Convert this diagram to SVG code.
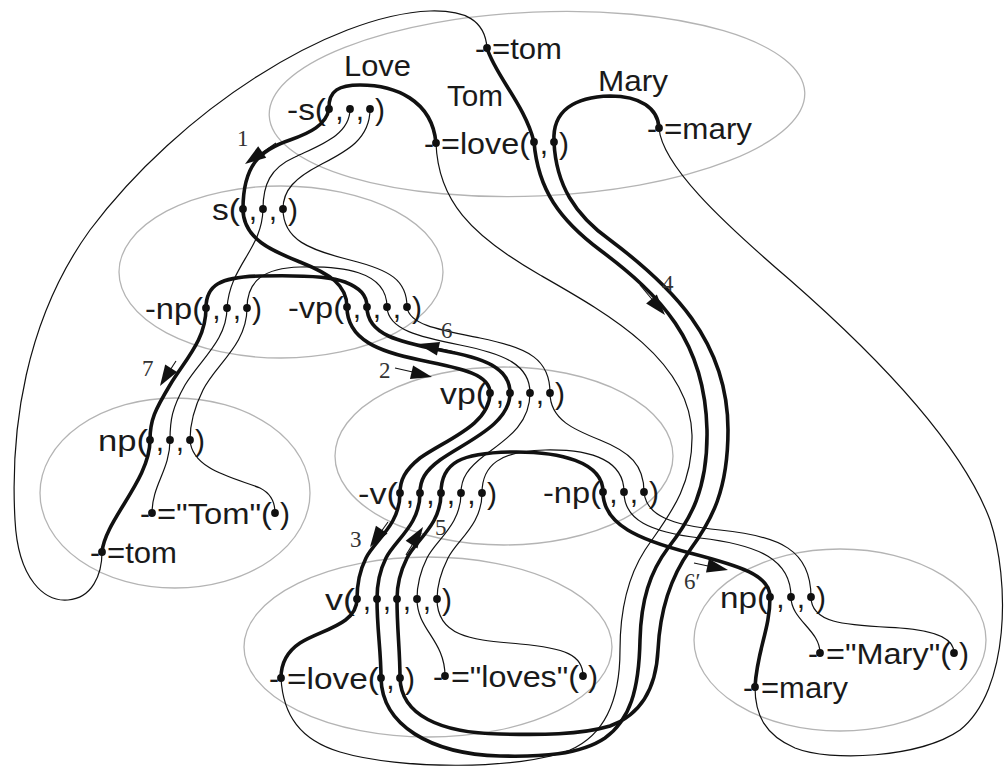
<svg xmlns="http://www.w3.org/2000/svg" width="1005" height="767" viewBox="0 0 1005 767">
<defs>
<style>
.e{fill:none;stroke:#b4b4b4;stroke-width:1.3}
.t{font-family:"Liberation Sans",Arial,sans-serif;font-size:30px;fill:#1a1a1a}
.r{text-anchor:end}
.m{text-anchor:middle}
.d{fill:#111}
.k{fill:none;stroke:#111;stroke-width:3.6;stroke-linecap:round}
.n{fill:none;stroke:#111;stroke-width:1.2}
.a{fill:none;stroke:#111;stroke-width:1.1}
.h{fill:#111;stroke:none}
.l{font-family:"Liberation Serif","Times New Roman",serif;font-size:23px;fill:#333}
</style>
<path id="ah" class="h" d="M-21,-7 L0,0 L-21,7 Z"/>
</defs>
<rect width="1005" height="767" fill="#fff"/>

<g id="n-love">
<ellipse class="e" cx="537" cy="104" rx="268" ry="92" transform="rotate(-2.5 537 104)"/>
<text class="t" x="344" y="76" textLength="67" lengthAdjust="spacingAndGlyphs">Love</text>
<text class="t" x="447" y="106" textLength="56" lengthAdjust="spacingAndGlyphs">Tom</text>
<text class="t" x="598" y="91" textLength="70" lengthAdjust="spacingAndGlyphs">Mary</text>
<text class="t r" x="485" y="59">-</text>
<text class="t" x="492" y="59" textLength="70" lengthAdjust="spacingAndGlyphs">=tom</text>
<circle class="d" cx="487" cy="48" r="3.9"/>
<text class="t" x="287" y="120" textLength="39" lengthAdjust="spacingAndGlyphs">-s(</text>
<text class="t m" x="339.5" y="120">,</text>
<text class="t m" x="360" y="120">,</text>
<text class="t" x="375" y="120">)</text>
<circle class="d" cx="329" cy="109" r="3.9"/>
<circle class="d" cx="350" cy="109" r="3.9"/>
<circle class="d" cx="370" cy="109" r="3.9"/>
<text class="t r" x="434" y="154">-</text>
<text class="t" x="441" y="154" textLength="89" lengthAdjust="spacingAndGlyphs">=love(</text>
<circle class="d" cx="436" cy="143" r="3.9"/>
<circle class="d" cx="534" cy="142" r="3.9"/>
<circle class="d" cx="554" cy="142" r="3.9"/>
<text class="t m" x="544" y="154">,</text>
<text class="t" x="559" y="154">)</text>
<text class="t r" x="657" y="139">-</text>
<circle class="d" cx="659" cy="128" r="3.9"/>
<text class="t" x="664" y="139" textLength="88" lengthAdjust="spacingAndGlyphs">=mary</text>
</g>

<g id="n-s">
<ellipse class="e" cx="281" cy="272" rx="162" ry="86"/>
<text class="t" x="212" y="220" textLength="28" lengthAdjust="spacingAndGlyphs">s(</text>
<circle class="d" cx="243" cy="209" r="3.9"/>
<circle class="d" cx="263" cy="209" r="3.9"/>
<circle class="d" cx="283" cy="209" r="3.9"/>
<text class="t m" x="253" y="220">,</text>
<text class="t m" x="273" y="220">,</text>
<text class="t" x="288" y="220">)</text>
<text class="t" x="145" y="319" textLength="58" lengthAdjust="spacingAndGlyphs">-np(</text>
<circle class="d" cx="206" cy="308" r="3.9"/>
<circle class="d" cx="227" cy="308" r="3.9"/>
<circle class="d" cx="247" cy="308" r="3.9"/>
<text class="t m" x="216.5" y="319">,</text>
<text class="t m" x="237" y="319">,</text>
<text class="t" x="252" y="319">)</text>
<text class="t" x="288" y="318" textLength="56" lengthAdjust="spacingAndGlyphs">-vp(</text>
<circle class="d" cx="347" cy="307" r="3.9"/>
<circle class="d" cx="367" cy="307" r="3.9"/>
<circle class="d" cx="387" cy="307" r="3.9"/>
<circle class="d" cx="407" cy="307" r="3.9"/>
<text class="t m" x="357" y="318">,</text>
<text class="t m" x="377" y="318">,</text>
<text class="t m" x="397" y="318">,</text>
<text class="t" x="412" y="318">)</text>
</g>

<g id="n-vp">
<ellipse class="e" cx="504" cy="456" rx="169" ry="89"/>
<text class="t" x="440" y="404" textLength="47" lengthAdjust="spacingAndGlyphs">vp(</text>
<circle class="d" cx="490" cy="393" r="3.9"/>
<circle class="d" cx="510" cy="393" r="3.9"/>
<circle class="d" cx="530" cy="393" r="3.9"/>
<circle class="d" cx="550" cy="393" r="3.9"/>
<text class="t m" x="500" y="404">,</text>
<text class="t m" x="520" y="404">,</text>
<text class="t m" x="540" y="404">,</text>
<text class="t" x="555" y="404">)</text>
<text class="t" x="358" y="504" textLength="40" lengthAdjust="spacingAndGlyphs">-v(</text>
<circle class="d" cx="400" cy="493" r="3.9"/>
<circle class="d" cx="420" cy="493" r="3.9"/>
<circle class="d" cx="441" cy="493" r="3.9"/>
<circle class="d" cx="461" cy="493" r="3.9"/>
<circle class="d" cx="482" cy="493" r="3.9"/>
<text class="t m" x="410" y="504">,</text>
<text class="t m" x="430.5" y="504">,</text>
<text class="t m" x="451" y="504">,</text>
<text class="t m" x="471.5" y="504">,</text>
<text class="t" x="487" y="504">)</text>
<text class="t" x="543" y="503" textLength="58" lengthAdjust="spacingAndGlyphs">-np(</text>
<circle class="d" cx="603" cy="492" r="3.9"/>
<circle class="d" cx="624" cy="492" r="3.9"/>
<circle class="d" cx="644" cy="492" r="3.9"/>
<text class="t m" x="613.5" y="503">,</text>
<text class="t m" x="634" y="503">,</text>
<text class="t" x="649" y="503">)</text>
</g>

<g id="n-np-tom">
<ellipse class="e" cx="175" cy="493" rx="135" ry="95"/>
<text class="t" x="98" y="451" textLength="50" lengthAdjust="spacingAndGlyphs">np(</text>
<circle class="d" cx="150" cy="440" r="3.9"/>
<circle class="d" cx="170" cy="440" r="3.9"/>
<circle class="d" cx="190" cy="440" r="3.9"/>
<text class="t m" x="160" y="451">,</text>
<text class="t m" x="180" y="451">,</text>
<text class="t" x="195" y="451">)</text>
<text class="t r" x="150" y="524">-</text>
<circle class="d" cx="152" cy="513" r="3.9"/>
<text class="t" x="157" y="524" textLength="115" lengthAdjust="spacingAndGlyphs">="Tom"(</text>
<circle class="d" cx="275" cy="513" r="3.9"/>
<text class="t" x="280" y="524">)</text>
<text class="t r" x="100" y="563">-</text>
<circle class="d" cx="102" cy="552" r="3.9"/>
<text class="t" x="107" y="563" textLength="70" lengthAdjust="spacingAndGlyphs">=tom</text>
</g>

<g id="n-v">
<ellipse class="e" cx="428" cy="647" rx="184" ry="90"/>
<text class="t" x="325" y="610" textLength="30" lengthAdjust="spacingAndGlyphs">v(</text>
<circle class="d" cx="357" cy="599" r="3.9"/>
<circle class="d" cx="377" cy="599" r="3.9"/>
<circle class="d" cx="397" cy="599" r="3.9"/>
<circle class="d" cx="417" cy="599" r="3.9"/>
<circle class="d" cx="437" cy="599" r="3.9"/>
<text class="t m" x="367" y="610">,</text>
<text class="t m" x="387" y="610">,</text>
<text class="t m" x="407" y="610">,</text>
<text class="t m" x="427" y="610">,</text>
<text class="t" x="442" y="610">)</text>
<text class="t r" x="279" y="689">-</text>
<circle class="d" cx="281" cy="678" r="3.9"/>
<text class="t" x="287" y="689" textLength="92" lengthAdjust="spacingAndGlyphs">=love(</text>
<circle class="d" cx="381" cy="678" r="3.9"/>
<circle class="d" cx="400" cy="678" r="3.9"/>
<text class="t m" x="390.5" y="689">,</text>
<text class="t" x="405" y="689">)</text>
<text class="t r" x="443" y="687">-</text>
<circle class="d" cx="445" cy="676" r="3.9"/>
<text class="t" x="451" y="687" textLength="128" lengthAdjust="spacingAndGlyphs">="loves"(</text>
<circle class="d" cx="583" cy="676" r="3.9"/>
<text class="t" x="588" y="687">)</text>
</g>

<g id="n-np-mary">
<ellipse class="e" cx="840" cy="640" rx="146" ry="91"/>
<text class="t" x="720" y="608" textLength="48" lengthAdjust="spacingAndGlyphs">np(</text>
<circle class="d" cx="770" cy="597" r="3.9"/>
<circle class="d" cx="791" cy="597" r="3.9"/>
<circle class="d" cx="811" cy="597" r="3.9"/>
<text class="t m" x="780.5" y="608">,</text>
<text class="t m" x="801" y="608">,</text>
<text class="t" x="816" y="608">)</text>
<text class="t r" x="818" y="664">-</text>
<circle class="d" cx="820" cy="653" r="3.9"/>
<text class="t" x="826" y="664" textLength="125" lengthAdjust="spacingAndGlyphs">="Mary"(</text>
<circle class="d" cx="954" cy="653" r="3.9"/>
<text class="t" x="959" y="664">)</text>
<text class="t r" x="753" y="698">-</text>
<circle class="d" cx="755" cy="687" r="3.9"/>
<text class="t" x="761" y="698" textLength="87" lengthAdjust="spacingAndGlyphs">=mary</text>
</g>

<g id="connectors">
<path class="k" d="M487,48 C495,75 525,105 534,142"/>
<path class="n" d="M487,48 C485,20 465,10 430,11 C330,15 180,110 90,230 C25,320 10,430 15,520 C18,580 45,602 68,600 C92,598 102,575 102,552"/>
<path class="k" d="M329,109 C328,90 340,85 360,85 C395,85 432,100 436,143"/>
<path class="k" d="M554,142 C552,110 575,97 610,96 C640,96 658,108 659,128"/>
<path class="n" d="M659,128 C662,165 720,220 790,280 C870,350 960,440 990,520 C1010,580 1010,690 960,730 C920,758 830,762 795,748 C765,735 755,715 755,687"/>
<path class="k" d="M329,109 C326,125 310,133 290,140 C260,150 243,165 243,209"/>
<path class="n" d="M350,109 C350,135 320,145 295,157 C270,168 263,185 263,209"/>
<path class="n" d="M370,109 C370,140 345,152 320,165 C295,178 283,190 283,209"/>
<path class="k" d="M243,209 C243,240 275,252 300,262 C330,274 347,285 347,307"/>
<path class="n" d="M263,209 C262,250 230,265 227,308"/>
<path class="n" d="M283,209 C283,240 310,250 350,260 C390,270 407,280 407,307"/>
<path class="k" d="M206,308 C206,285 220,277 260,276 C300,275 330,276 345,282 C360,288 367,295 367,307"/>
<path class="n" d="M247,308 C247,280 265,268 300,267 C340,266 387,270 387,307"/>
<path class="k" d="M206,308 C206,340 185,360 170,385 C155,410 150,420 150,440"/>
<path class="n" d="M227,308 C227,340 200,360 185,385 C172,408 170,420 170,440"/>
<path class="n" d="M247,308 C247,345 215,365 203,390 C193,410 190,425 190,440"/>
<path class="k" d="M150,440 C150,480 105,520 102,552"/>
<path class="n" d="M170,440 C170,470 152,485 152,513"/>
<path class="n" d="M190,440 C192,470 235,478 260,488 C272,494 275,503 275,513"/>
<path class="k" d="M347,307 C347,340 380,352 420,360 C465,369 490,375 490,393"/>
<path class="k" d="M367,307 C367,335 400,342 440,350 C485,358 510,368 510,393"/>
<path class="n" d="M387,307 C388,330 420,337 460,345 C505,354 530,365 530,393"/>
<path class="n" d="M407,307 C409,325 440,330 480,338 C530,348 550,360 550,393"/>
<path class="k" d="M490,393 C490,425 445,440 420,458 C405,470 400,480 400,493"/>
<path class="k" d="M510,393 C510,425 465,442 440,460 C425,471 420,480 420,493"/>
<path class="n" d="M530,393 C530,425 505,440 485,455 C468,468 461,478 461,493"/>
<path class="n" d="M550,393 C550,420 575,430 600,440 C630,452 644,465 644,492"/>
<path class="k" d="M441,493 C441,462 462,453 510,452 C560,451 603,462 603,492"/>
<path class="n" d="M482,493 C482,465 500,451 545,450 C595,449 624,462 624,492"/>
<path class="k" d="M400,493 C400,525 375,540 366,558 C359,572 357,585 357,599"/>
<path class="k" d="M420,493 C420,525 395,540 386,558 C379,572 377,585 377,599"/>
<path class="k" d="M441,493 C441,525 416,540 407,558 C400,572 397,585 397,599"/>
<path class="n" d="M461,493 C461,525 436,540 427,558 C420,572 417,585 417,599"/>
<path class="n" d="M482,493 C482,525 457,540 448,558 C441,572 437,585 437,599"/>
<path class="k" d="M357,599 C357,625 320,630 300,643 C285,653 281,665 281,678"/>
<path class="k" d="M377,599 C377,630 381,650 381,678"/>
<path class="k" d="M397,599 C397,630 400,650 400,678"/>
<path class="n" d="M417,599 C417,630 445,640 445,676"/>
<path class="n" d="M437,599 C437,640 480,640 520,644 C565,648 583,655 583,676"/>
<path class="k" d="M603,492 C603,525 640,540 690,553 C740,566 770,575 770,597"/>
<path class="n" d="M624,492 C624,520 650,532 700,538 C760,545 791,560 791,597"/>
<path class="n" d="M644,492 C646,515 670,525 720,530 C780,536 811,550 811,597"/>
<path class="k" d="M770,597 C770,630 757,650 755,687"/>
<path class="n" d="M791,597 C791,620 820,630 820,653"/>
<path class="n" d="M811,597 C811,625 850,625 900,628 C940,631 954,640 954,653"/>
<path class="n" d="M436,143 C438,200 470,235 540,275 C610,315 690,360 692,435 C693,490 665,520 645,550 C627,578 620,610 620,650 C620,700 605,735 570,750 C520,770 400,770 340,752 C300,740 283,715 281,678"/>
<path class="k" d="M534,142 C538,190 560,220 600,250 C660,295 705,340 707,430 C708,490 690,520 668,548 C650,572 641,600 640,640 C639,690 630,720 605,738 C580,755 540,757 500,756 C430,754 382,725 381,678"/>
<path class="k" d="M554,142 C556,185 575,215 610,240 C670,285 728,340 728,430 C728,490 712,520 690,550 C670,578 660,610 658,650 C656,690 640,715 610,726 C580,735 540,735 500,734 C440,733 401,715 400,678"/>
</g>

<g id="arrows">
<line class="a" x1="276" y1="143" x2="250" y2="161"/>
<use href="#ah" transform="translate(245,164) rotate(145)"/>
<line class="a" x1="395" y1="368" x2="426" y2="375"/>
<use href="#ah" transform="translate(432,377) rotate(13)"/>
<line class="a" x1="388" y1="522" x2="373" y2="543"/>
<use href="#ah" transform="translate(370,547) rotate(124)"/>
<line class="a" x1="640" y1="285" x2="661" y2="310"/>
<use href="#ah" transform="translate(665,315) rotate(50)"/>
<line class="a" x1="406" y1="555" x2="420" y2="532"/>
<use href="#ah" transform="translate(423,527) rotate(-57)"/>
<line class="a" x1="455" y1="352" x2="424" y2="345"/>
<use href="#ah" transform="translate(418,344) rotate(193)"/>
<line class="a" x1="694" y1="563" x2="722" y2="569"/>
<use href="#ah" transform="translate(728,570) rotate(12)"/>
<line class="a" x1="176" y1="361" x2="163" y2="381"/>
<use href="#ah" transform="translate(160,386) rotate(122)"/>
</g>

<g id="labels">
<text class="l" x="237" y="146">1</text>
<text class="l" x="379" y="378">2</text>
<text class="l" x="350" y="547">3</text>
<text class="l" x="662" y="291">4</text>
<text class="l" x="435" y="535">5</text>
<text class="l" x="441" y="338">6</text>
<text class="l" x="684" y="589">6′</text>
<text class="l" x="142" y="376">7</text>
</g>
</svg>
